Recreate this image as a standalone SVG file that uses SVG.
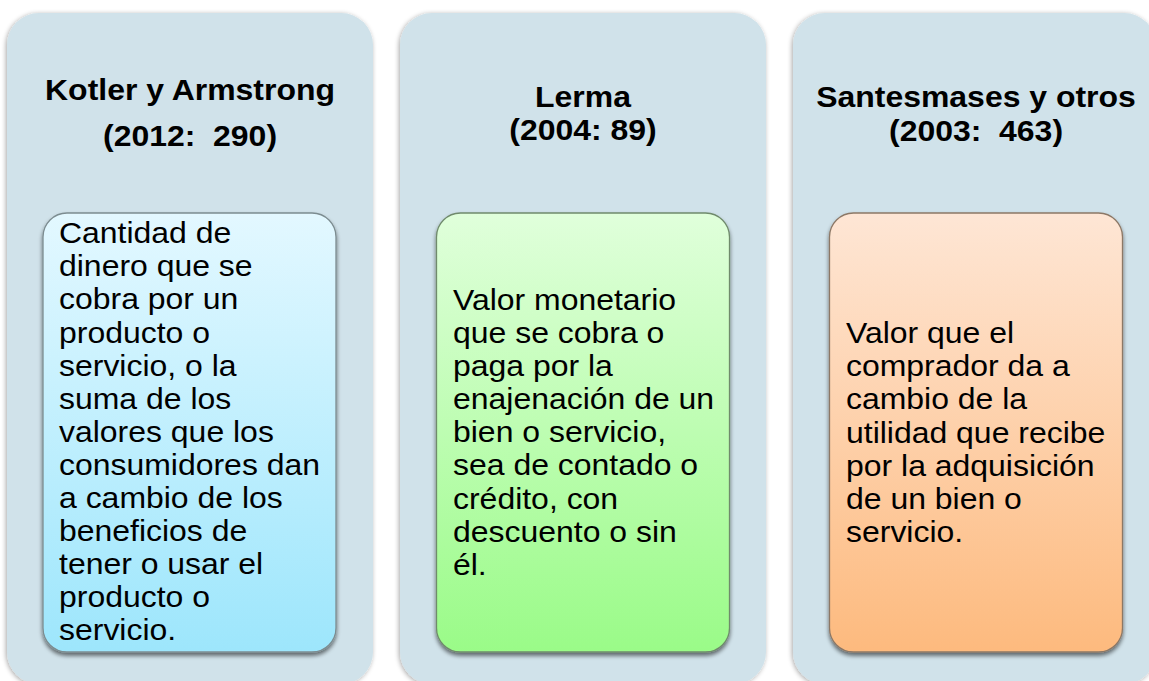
<svg xmlns="http://www.w3.org/2000/svg" width="1149" height="681" viewBox="0 0 1149 681">
<defs>
  <filter id="pshadow" x="-10%" y="-10%" width="120%" height="120%">
    <feGaussianBlur in="SourceAlpha" stdDeviation="2.5"/>
    <feOffset dx="-1" dy="1" result="b"/>
    <feComponentTransfer><feFuncA type="linear" slope="0.35"/></feComponentTransfer>
    <feMerge><feMergeNode/><feMergeNode in="SourceGraphic"/></feMerge>
  </filter>
  <filter id="bshadow" x="-10%" y="-10%" width="120%" height="120%">
    <feGaussianBlur in="SourceAlpha" stdDeviation="2"/>
    <feOffset dx="0" dy="2.5" result="b"/>
    <feComponentTransfer><feFuncA type="linear" slope="0.55"/></feComponentTransfer>
    <feMerge><feMergeNode/><feMergeNode in="SourceGraphic"/></feMerge>
  </filter>
  <linearGradient id="gBlue" x1="0" y1="0" x2="0" y2="1">
    <stop offset="0" stop-color="#e3f8ff"/>
    <stop offset="1" stop-color="#9de6fc"/>
  </linearGradient>
  <linearGradient id="gGreen" x1="0" y1="0" x2="0" y2="1">
    <stop offset="0" stop-color="#e0ffdb"/>
    <stop offset="1" stop-color="#9afb88"/>
  </linearGradient>
  <linearGradient id="gOrange" x1="0" y1="0" x2="0" y2="1">
    <stop offset="0" stop-color="#fee6d5"/>
    <stop offset="1" stop-color="#fdba7e"/>
  </linearGradient>
</defs>
<style>
  .panel { fill: #d0e2ea; filter: url(#pshadow); }
  .box { stroke-width: 1.3; filter: url(#bshadow); }
  .head { font-family: "Liberation Sans", Arial, sans-serif; font-weight: bold; font-size: 30px; fill: #000; text-anchor: middle; }
  .body { font-family: "Liberation Sans", Arial, sans-serif; font-size: 30px; fill: #000; }
</style>
<rect width="1149" height="681" fill="#ffffff"/>

<g id="node-kotler">
  <rect class="panel" x="7" y="13" width="366" height="671" rx="32" ry="32"/>
  <g transform="translate(190,0) scale(1.065,1)">
    <text class="head" x="0" y="100">Kotler y Armstrong</text>
    <text class="head" x="0" y="146">(2012:&#160; 290)</text>
  </g>
  <rect class="box" x="43" y="213" width="293" height="439" rx="24" ry="24" fill="url(#gBlue)" stroke="#7c8c90"/>
  <g transform="translate(59,0) scale(1.065,1)">
    <text class="body" x="0" y="243.3">Cantidad de</text>
    <text class="body" x="0" y="276.4">dinero que se</text>
    <text class="body" x="0" y="309.5">cobra por un</text>
    <text class="body" x="0" y="342.6">producto o</text>
    <text class="body" x="0" y="375.7">servicio, o la</text>
    <text class="body" x="0" y="408.8">suma de los</text>
    <text class="body" x="0" y="441.9">valores que los</text>
    <text class="body" x="0" y="475">consumidores dan</text>
    <text class="body" x="0" y="508.1">a cambio de los</text>
    <text class="body" x="0" y="541.2">beneficios de</text>
    <text class="body" x="0" y="574.3">tener o usar el</text>
    <text class="body" x="0" y="607.4">producto o</text>
    <text class="body" x="0" y="640.5">servicio.</text>
  </g>
</g>

<g id="node-lerma">
  <rect class="panel" x="400" y="13" width="366" height="671" rx="32" ry="32"/>
  <g transform="translate(583,0) scale(1.065,1)">
    <text class="head" x="0" y="107">Lerma</text>
    <text class="head" x="0" y="140">(2004: 89)</text>
  </g>
  <rect class="box" x="436.5" y="213" width="293" height="439" rx="24" ry="24" fill="url(#gGreen)" stroke="#6f8a6c"/>
  <g transform="translate(453,0) scale(1.065,1)">
    <text class="body" x="0" y="310">Valor monetario</text>
    <text class="body" x="0" y="343.1">que se cobra o</text>
    <text class="body" x="0" y="376.2">paga por la</text>
    <text class="body" x="0" y="409.3">enajenación de un</text>
    <text class="body" x="0" y="442.4">bien o servicio,</text>
    <text class="body" x="0" y="475.5">sea de contado o</text>
    <text class="body" x="0" y="508.6">crédito, con</text>
    <text class="body" x="0" y="541.7">descuento o sin</text>
    <text class="body" x="0" y="574.8">él.</text>
  </g>
</g>

<g id="node-santesmases">
  <rect class="panel" x="793" y="13" width="363" height="671" rx="32" ry="32"/>
  <g transform="translate(976,0) scale(1.065,1)">
    <text class="head" x="0" y="107">Santesmases y otros</text>
    <text class="head" x="0" y="141">(2003:&#160; 463)</text>
  </g>
  <rect class="box" x="829.5" y="213" width="293" height="439" rx="24" ry="24" fill="url(#gOrange)" stroke="#8c7866"/>
  <g transform="translate(846,0) scale(1.065,1)">
    <text class="body" x="0" y="343.3">Valor que el</text>
    <text class="body" x="0" y="376.4">comprador da a</text>
    <text class="body" x="0" y="409.5">cambio de la</text>
    <text class="body" x="0" y="442.6">utilidad que recibe</text>
    <text class="body" x="0" y="475.7">por la adquisición</text>
    <text class="body" x="0" y="508.8">de un bien o</text>
    <text class="body" x="0" y="541.9">servicio.</text>
  </g>
</g>

<g id="connectors"/>
</svg>
